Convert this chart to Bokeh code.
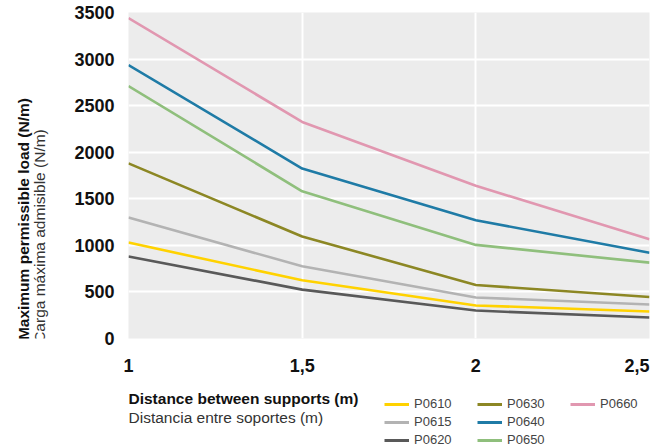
from math import pi
from bokeh.plotting import figure
from bokeh.layouts import column, row
from bokeh.models import FixedTicker, Legend, LegendItem, Label, Range1d
from bokeh.embed import file_html
from bokeh.resources import INLINE

# ---- data ----
distance = [1, 1.5, 2, 2.5]
x_tick_labels = ["1", "1,5", "2", "2,5"]
y_ticks = [0, 500, 1000, 1500, 2000, 2500, 3000, 3500]

series_names = ["P0610", "P0615", "P0620", "P0630", "P0640", "P0650", "P0660"]
P0610 = [1030, 625, 355, 290]
P0615 = [1300, 775, 440, 365]
P0620 = [880, 525, 300, 225]
P0630 = [1880, 1095, 575, 445]
P0640 = [2935, 1825, 1270, 920]
P0650 = [2710, 1580, 1005, 815]
P0660 = [3440, 2325, 1640, 1065]
series_values = [P0610, P0615, P0620, P0630, P0640, P0650, P0660]
series_colors = ["#ffd200", "#b3b3b3", "#595959", "#8c8724", "#1f7ba6", "#8fbf7c", "#e197b0"]

x_title = ["Distance between supports (m)", "Distancia entre soportes (m)"]
y_title = ["Maximum permissible load (N/m)", "Carga máxima admisible (N/m)"]

FONT = "Liberation Sans"
TOP_H = 385
LEFT_W = 56


def blank(width, height):
    f = figure(width=width, height=height, output_backend="svg", toolbar_location=None,
               x_range=Range1d(0, width), y_range=Range1d(0, height),
               x_axis_type=None, y_axis_type=None, min_border=0)
    f.outline_line_color = None
    f.grid.visible = False
    return f


# ---- main chart ----
p = figure(width=664 - LEFT_W, height=TOP_H, output_backend="svg", toolbar_location=None,
           x_range=Range1d(1, 2.5), y_range=Range1d(0, 3500),
           min_border_left=128 - LEFT_W, min_border_right=15, min_border_top=12,
           min_border_bottom=TOP_H - 338)
p.outline_line_color = None
p.background_fill_color = "#ececec"

p.xgrid.ticker = FixedTicker(ticks=distance)
p.ygrid.ticker = FixedTicker(ticks=y_ticks)
for g in (p.xgrid, p.ygrid):
    g.grid_line_color = "white"
    g.grid_line_width = 2

xa = p.xaxis[0]
xa.ticker = FixedTicker(ticks=distance)
labels = dict(zip(distance, x_tick_labels))
labels[2.5] = labels[2.5] + "\u00a0" * 3
xa.major_label_overrides = labels
ya = p.yaxis[0]
ya.ticker = FixedTicker(ticks=y_ticks)
for ax in (xa, ya):
    ax.axis_line_color = None
    ax.major_tick_line_color = None
    ax.minor_tick_line_color = None
    ax.major_tick_out = 0
    ax.major_tick_in = 0
    ax.major_label_text_font = FONT
    ax.major_label_text_font_style = "bold"
    ax.major_label_text_font_size = "18px"
    ax.major_label_text_color = "#111111"
xa.major_label_standoff = 17
ya.major_label_standoff = 14

for name, vals, col in zip(series_names, series_values, series_colors):
    p.line(distance, vals, line_color=col, line_width=2.6)

# ---- y titles (left strip) ----
pl = blank(LEFT_W, TOP_H)
pl.add_layout(Label(x=23, y=TOP_H - 244, angle=pi / 2, text=y_title[0], text_font=FONT,
                    text_font_style="bold", text_font_size="15.5px", text_color="#111111",
                    text_align="center", text_baseline="middle"))
pl.add_layout(Label(x=39, y=TOP_H - 264, angle=pi / 2, text=y_title[1], text_font=FONT,
                    text_font_size="15.5px", text_color="#333333",
                    text_align="center", text_baseline="middle"))

# ---- bottom strip: x titles + legend ----
BOT_H = 447 - TOP_H
pb = blank(664, BOT_H)
pb.add_layout(Label(x=128, y=BOT_H - (398 - TOP_H), text=x_title[0], text_font=FONT,
                    text_font_style="bold", text_font_size="15.5px", text_color="#111111",
                    text_align="left", text_baseline="middle"))
pb.add_layout(Label(x=128, y=BOT_H - (417 - TOP_H), text=x_title[1], text_font=FONT,
                    text_font_size="15.5px", text_color="#333333",
                    text_align="left", text_baseline="middle"))

# legend swatches: same series drawn in the strip (they fall outside its visible range)
items = []
for name, vals, col in zip(series_names, series_values, series_colors):
    r = pb.line(distance, vals, line_color=col, line_width=3)
    items.append(LegendItem(label=name, renderers=[r]))
legend = Legend(items=items, nrows=3, orientation="vertical",
                location=(384, 0), padding=0, margin=0, spacing=3,
                glyph_width=25, glyph_height=14, label_height=14,
                label_width=60, label_standoff=5,
                label_text_font=FONT, label_text_font_size="13px",
                label_text_color="#444444", label_text_baseline="middle",
                border_line_alpha=0, background_fill_alpha=0)
pb.add_layout(legend, "center")

layout = column(row(pl, p), pb)
open("out.html", "w").write(file_html(layout, INLINE))
